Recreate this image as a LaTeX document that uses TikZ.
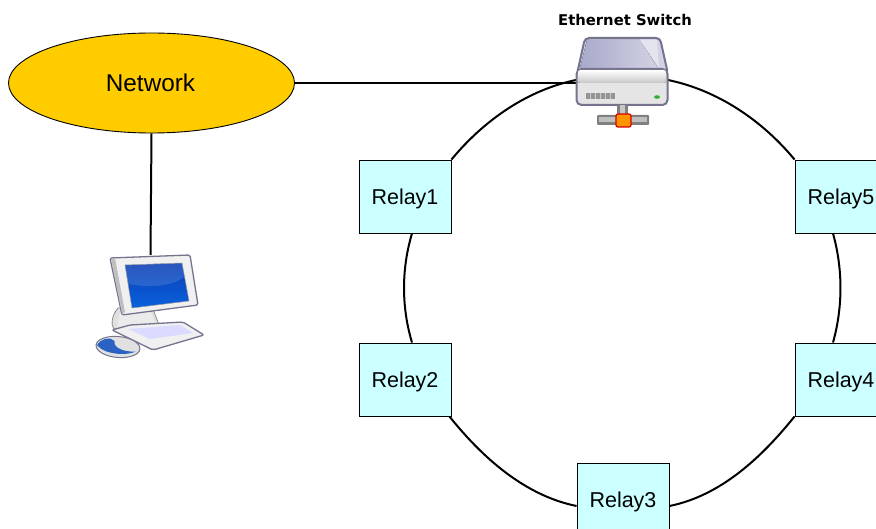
\documentclass[tikz,border=0pt]{standalone}
\usepackage{fontspec}
\setmainfont{Liberation Sans}
\newfontfamily\swfont{DejaVu Sans}
\usetikzlibrary{shapes.geometric}
\definecolor{relayfill}{HTML}{CCFFFF}
\definecolor{netfill}{HTML}{FFCC00}
\definecolor{edgeblue}{HTML}{74748F}
\definecolor{panelA}{HTML}{A9A9CB}
\definecolor{panelB}{HTML}{D2D2E4}
\definecolor{scrTop}{HTML}{0A3DB5}
\definecolor{scrBot}{HTML}{0A62DC}
\definecolor{mouseblue}{HTML}{2A62C4}
\tikzset{
  relay/.style={draw=black,line width=0.9pt,fill=relayfill,minimum width=92pt,minimum height=73pt,inner sep=0pt,text height=15.4pt,text depth=0pt,font=\fontsize{21.5}{24}\selectfont},
  link/.style={draw=black,line width=2pt,looseness=0.87},
  iconbox/.style={inner sep=0pt,outer sep=0pt,draw=none}
}
\begin{document}
\begin{tikzpicture}[x=1pt,y=-1pt]
\useasboundingbox (0,0) rectangle (876,529);
\fill[white] (0,0) rectangle (876,529);
\clip (0,0) rectangle (876,529);
% placeholders and nodes
\node[iconbox,minimum width=92pt,minimum height=92pt] (sw) at (622,83) {};
\node[iconbox,minimum width=108pt,minimum height=103pt] (pc) at (150.5,306.5) {};
\node[ellipse,draw=black,line width=0.9pt,fill=netfill,minimum width=286pt,minimum height=100pt,inner sep=0pt,font=\fontsize{24.3}{26}\selectfont] (net) at (151.5,83) {\hspace{-2pt}Network};
\node[relay] (r1) at (405,196.5) {Relay1};
\node[relay] (r2) at (405,379.5) {Relay2};
\node[relay] (r3) at (623,499.5) {Relay3};
\node[relay] (r4) at (841,379.5) {Relay4};
\node[relay] (r5) at (841,196.5) {Relay5};
\node[font=\swfont\bfseries\fontsize{14.8}{16}\selectfont,inner sep=0pt] (swlabel) at (625,19.5) {Ethernet Switch};
% connectors
\draw[link] (net.east) -- (sw.west);
\draw[link] (net.south) -- (pc.north);
\draw[link] ([yshift=3pt]sw.west) to[out=191.7,in=50.4] (r1.north east);
\draw[link] ([xshift=7pt]r1.south) to[out=253.3,in=106.7] ([xshift=7pt]r2.north);
\draw[link] ([xshift=-2pt]r2.south east) to[out=308.7,in=168.6] ([yshift=-6.5pt]r3.west);
\draw[link] ([yshift=-6.5pt]r3.east) to[out=11.4,in=231.2] (r4.south west);
\draw[link] ([xshift=-8pt]r4.north) to[out=74.4,in=285.6] ([xshift=-8pt]r5.south);
\draw[link] (r5.north west) to[out=129.6,in=348.3] ([yshift=3pt]sw.east);
% ---- switch icon
\draw[edgeblue,line width=2pt,rounded corners=4pt,fill=panelB]
  (585,38) -- (660,38) -- (668,74) -- (577,74) -- cycle;
\fill[left color=panelA,right color=panelB] (587,40) -- (640,40) -- (658,68) -- (580,68) -- cycle;
\fill[panelB!60!white] (640,40) -- (657,40) -- (659,68) -- cycle;
\draw[edgeblue,line width=2pt,rounded corners=5pt,fill=white!90!black] (576.5,69) rectangle (667.5,105);
\fill[top color=white,bottom color=black!22,rounded corners=2pt] (578,70) rectangle (666,83);
\fill[black!42] (586,93) rectangle (615,99);
\foreach \i in {590,595,600,605,610} \fill[black!20] (\i,93) rectangle (\i+1,99);
\fill[green!60!black!80] (657,97) ellipse (3pt and 1.8pt);
\fill[black!50] (617,105) rectangle (628,116);
\fill[black!22] (620,105) rectangle (625,116);
\fill[black!50,rounded corners=1pt] (597,115) rectangle (649,125);
\fill[black!25] (599,117) rectangle (647,122);
\draw[red!85!black,line width=1.2pt,rounded corners=2pt,fill=orange!85!yellow] (616,114) rectangle (631,127);
% ---- computer icon
\draw[black!45,line width=0.8pt,fill=black!12] (118,308) .. controls (111,316) and (111,326) .. (114,329) -- (160,327) -- (152,307) -- cycle;
\fill[white!92!black] (120,312) -- (150,310) -- (156,325) -- (117,327) -- cycle;
\draw[edgeblue,line width=1.3pt,fill=black!6,rounded corners=1.5pt] (110,258) -- (190,255) -- (198,305) -- (122,315) -- cycle;
\fill[black!25] (111,259) -- (115,258) -- (125,312) -- (122,314) -- cycle;
\draw[black!40,line width=0.5pt,top color=scrTop,bottom color=scrBot] (125,265) -- (182,263) -- (189,301) -- (132,308) -- cycle;
\fill[white,opacity=0.13] (125,265) -- (182,263) -- (184,277) .. controls (170,288) and (145,287) .. (128,284) -- cycle;
\draw[edgeblue,line width=1.3pt,fill=black!6,rounded corners=2pt] (112,330) -- (130,325) -- (183,322) -- (204,335) -- (153,350) -- cycle;
\fill[blue!14] (128,329) -- (180,325) -- (193,333) -- (150,339) -- cycle;
\draw[edgeblue,line width=1pt,fill=black!12,rotate around={-5:(118,347)}] (118,347) ellipse (22pt and 10.5pt);
\fill[mouseblue,rotate around={-5:(118,347)}] (97,347) .. controls (100,340) and (108,338) .. (114,340) .. controls (112,346) and (120,352) .. (136,350) .. controls (128,355) and (105,356) .. (97,347) -- cycle;
\fill[white!88!black,rotate around={-5:(118,347)}] (108,338) .. controls (118,336) and (132,340) .. (137,345) .. controls (128,347) and (118,344) .. (108,338) -- cycle;
\end{tikzpicture}
\end{document}
